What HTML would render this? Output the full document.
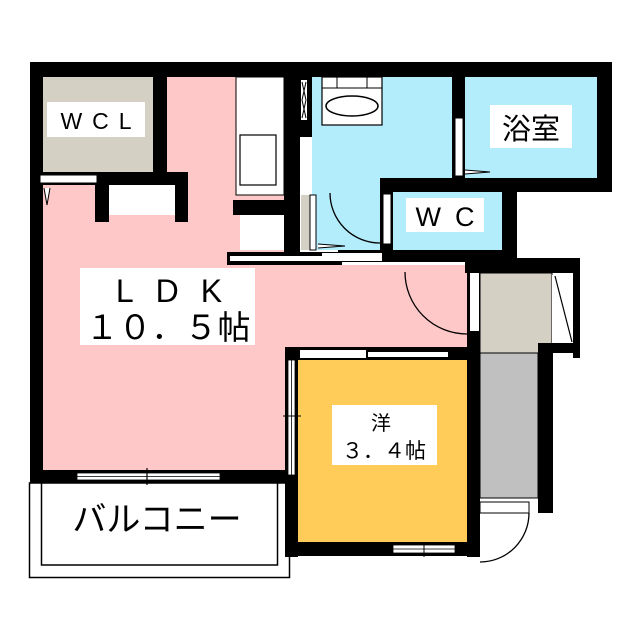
<!DOCTYPE html>
<html><head><meta charset="utf-8"><style>
html,body{margin:0;padding:0;background:#fff;width:640px;height:640px;overflow:hidden}
text{font-family:"Liberation Sans","Noto Sans CJK JP",sans-serif;fill:#000}
</style></head><body>
<svg width="640" height="640" viewBox="0 0 640 640" xmlns="http://www.w3.org/2000/svg">
<!-- fills -->
<rect x="43" y="77" width="110" height="95" fill="#d4d1c4"/>
<rect x="43" y="185" width="242" height="285" fill="#ffc8c8"/>
<rect x="167" y="77" width="70" height="120" fill="#ffc8c8"/>
<rect x="285" y="265" width="182" height="82" fill="#ffc8c8"/>
<rect x="109" y="185" width="66" height="30" fill="#fff"/>
<rect x="236" y="77" width="48" height="118" fill="#fff" stroke="#000" stroke-width="1"/>
<rect x="240" y="135" width="36" height="50" fill="#fff" stroke="#000" stroke-width="1.2"/>
<rect x="240" y="215" width="48" height="35" fill="#fff"/>
<rect x="312" y="77" width="140" height="173" fill="#b3ecfb"/>
<rect x="465" y="77" width="132" height="101" fill="#b3ecfb"/>
<rect x="393" y="192" width="109" height="58" fill="#b3ecfb"/>
<rect x="298" y="360" width="169" height="182" fill="#ffcc5a"/>
<rect x="480" y="273" width="72" height="80" fill="#d4d1c4" stroke="#000" stroke-width="1"/>
<rect x="480" y="353" width="58" height="145" fill="#c0c0c0" stroke="#000" stroke-width="1"/>
<rect x="552" y="275" width="21" height="68" fill="#fff"/>
<line x1="555" y1="276" x2="572" y2="342" stroke="#000" stroke-width="1.2"/>
<!-- balcony -->
<rect x="29.5" y="483" width="260" height="94.5" fill="#fff" stroke="#000" stroke-width="1.5"/>
<rect x="41.5" y="483" width="236" height="82" fill="#fff" stroke="#000" stroke-width="1.5"/>
<!-- walls -->
<g fill="#000">
<rect x="30" y="62" width="582" height="15"/>
<rect x="30" y="62" width="13" height="421"/>
<rect x="153" y="62" width="14" height="123"/>
<rect x="43" y="172" width="145" height="13"/>
<rect x="95" y="172" width="14" height="50"/>
<rect x="175" y="172" width="13" height="50"/>
<rect x="284" y="62" width="16" height="203"/>
<rect x="300" y="77" width="12" height="60"/>
<rect x="233" y="200" width="67" height="15"/>
<rect x="227" y="252" width="115" height="13"/>
<rect x="452" y="62" width="13" height="118"/>
<rect x="597" y="62" width="15" height="130"/>
<rect x="380" y="178" width="232" height="14"/>
<rect x="380" y="178" width="13" height="80"/>
<rect x="502" y="178" width="15" height="84"/>
<rect x="338" y="250" width="179" height="12"/>
<rect x="465" y="258" width="115" height="15"/>
<rect x="573" y="258" width="7" height="100"/>
<rect x="538" y="343" width="42" height="10"/>
<rect x="538" y="343" width="15" height="170"/>
<rect x="467" y="258" width="13" height="299"/>
<rect x="30" y="470" width="258" height="13"/>
<rect x="285" y="347" width="195" height="13"/>
<rect x="285" y="347" width="13" height="210"/>
<rect x="285" y="542" width="195" height="14"/>
</g>
<!-- whites in walls / windows -->
<rect x="40" y="175" width="57" height="8" fill="#fff" stroke="#000" stroke-width="1"/>
<rect x="230" y="256" width="110" height="5" fill="#fff"/>
<rect x="301" y="195" width="9" height="55" fill="#d4d1c4"/>
<rect x="310" y="195" width="6" height="55" fill="#fff" stroke="#000" stroke-width="1"/>
<rect x="300" y="143" width="12" height="42" fill="#fff"/>
<rect x="301" y="80" width="6" height="40" fill="#fff"/>
<path d="M302 82 L306 100 L302 118 M306 82 L302 100 L306 118" stroke="#000" fill="none"/>
<rect x="455" y="118" width="8" height="58" fill="#fff" stroke="#000" stroke-width="1"/>
<rect x="383" y="194" width="8" height="50" fill="#fff" stroke="#000" stroke-width="1"/>
<rect x="322" y="253" width="60" height="8" fill="#fff"/>
<rect x="470" y="273" width="9" height="58" fill="#fff"/>
<rect x="77" y="473" width="143" height="7" fill="#fff" stroke="#000" stroke-width="0.8"/>
<line x1="77" y1="476.5" x2="220" y2="476.5" stroke="#000" stroke-width="0.8"/>
<line x1="147" y1="468" x2="147" y2="485" stroke="#000" stroke-width="1.2"/>
<rect x="300" y="350" width="66" height="8" fill="#fff"/>
<rect x="368" y="352" width="80" height="5" fill="#fff"/>
<rect x="288" y="360" width="7" height="115" fill="#fff" stroke="#000" stroke-width="0.8"/>
<line x1="291.5" y1="360" x2="291.5" y2="475" stroke="#000" stroke-width="0.8"/>
<line x1="283" y1="416" x2="301" y2="416" stroke="#000" stroke-width="1"/>
<rect x="393" y="545" width="62" height="8" fill="#fff" stroke="#000" stroke-width="0.8"/>
<line x1="393" y1="549" x2="455" y2="549" stroke="#000" stroke-width="0.8"/>
<line x1="424" y1="542" x2="424" y2="557" stroke="#000" stroke-width="1"/>
<rect x="480" y="502" width="49" height="11" fill="#fff" stroke="#000" stroke-width="1"/>
<!-- washbasin -->
<rect x="322" y="77" width="60" height="48" fill="#fff" stroke="#000" stroke-width="1.2"/>
<line x1="337" y1="77" x2="337" y2="88" stroke="#000"/><line x1="367" y1="77" x2="367" y2="88" stroke="#000"/>
<line x1="322" y1="88" x2="382" y2="88" stroke="#000"/>
<ellipse cx="352" cy="106" rx="26" ry="10" fill="none" stroke="#000" stroke-width="1.5"/>
<!-- doors -->
<path d="M330 193 A50 50 0 0 0 380 243" fill="none" stroke="#000" stroke-width="1.3"/>
<path d="M405 272 A62 62 0 0 0 467 334" fill="none" stroke="#000" stroke-width="1.3"/>
<path d="M529 513 A49 49 0 0 1 480 562" fill="none" stroke="#000" stroke-width="1.3"/>
<path d="M465 170 L490 172 L465 174" fill="#fff" stroke="#000"/>
<path d="M318 244 L345 246 L318 248" fill="#fff" stroke="#000"/>
<path d="M44 188 L47 205 L50 188" fill="#fff" stroke="#000"/>
<!-- labels -->
<rect x="47" y="102" width="98" height="35" fill="#fff"/>
<text x="101" y="129" font-size="23" text-anchor="middle" letter-spacing="10">WCL</text>
<rect x="490" y="105" width="82" height="43" fill="#fff"/>
<text x="531" y="139" font-size="29" text-anchor="middle">浴室</text>
<rect x="406" y="198" width="78" height="34" fill="#fff"/>
<text x="452" y="226" font-size="27" text-anchor="middle" letter-spacing="14">WC</text>
<rect x="80" y="268" width="175" height="77" fill="#fff"/>
<text x="180" y="302" font-size="32" text-anchor="middle" letter-spacing="22">LDK</text>
<text x="168" y="339" font-size="33" text-anchor="middle">１０．５帖</text>
<rect x="332" y="405" width="105" height="60" fill="#fff"/>
<text x="381" y="430" font-size="20" text-anchor="middle">洋</text>
<text x="384" y="458" font-size="21" text-anchor="middle">３．４帖</text>
<text x="157" y="531" font-size="34" text-anchor="middle">バルコニー</text>
</svg>
</body></html>
